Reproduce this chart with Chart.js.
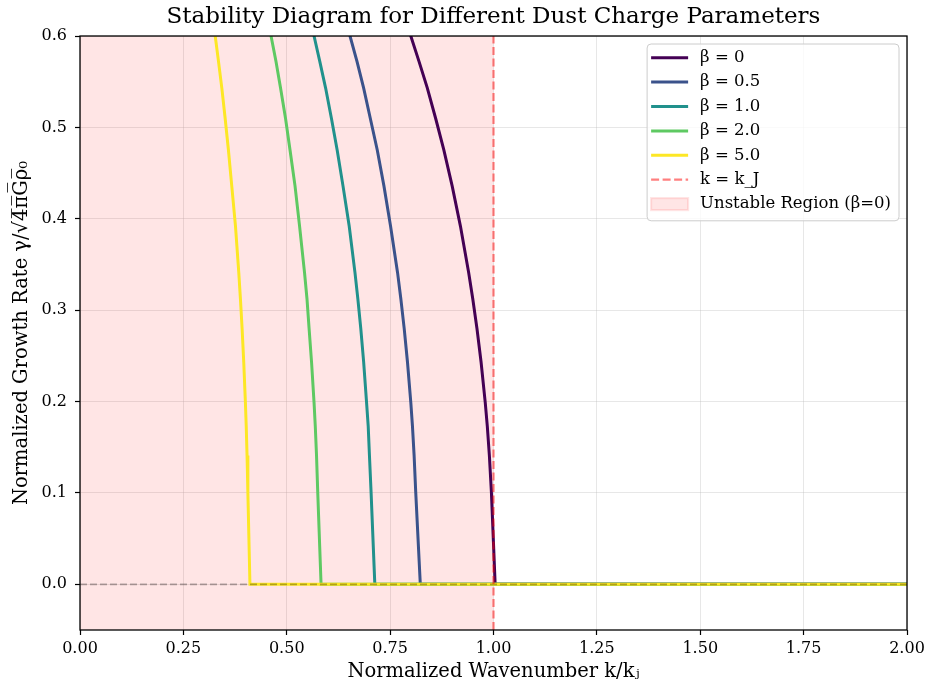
<!DOCTYPE html>
<html>
<head>
<meta charset="utf-8">
<title>Stability Diagram</title>
<script src="https://cdn.jsdelivr.net/npm/chart.js@4.4.1/dist/chart.umd.min.js"></script>
<style>
  body { margin: 0; background: #fff; }
  canvas { display: block; }
</style>
</head>
<body>
<canvas id="stabilityChart" width="930" height="690"></canvas>
<script>
// Growth rate samples, shared by every curve
const growthRate = [0.626, 0.600, 0.572, 0.543, 0.510, 0.475, 0.436, 0.392, 0.341, 0.312,
                    0.280, 0.243, 0.199, 0.173, 0.141, 0.100, 0, 0];

// k/k_J positions where each curve reaches the growth rates above
const kBeta0  = [0.780, 0.800, 0.820, 0.840, 0.860, 0.880, 0.900, 0.920, 0.940, 0.950,
                 0.960, 0.970, 0.980, 0.985, 0.990, 0.995, 1.004, 2.0];
const kBeta05 = [0.637, 0.653, 0.670, 0.686, 0.702, 0.719, 0.735, 0.751, 0.768, 0.776,
                 0.784, 0.792, 0.800, 0.804, 0.808, 0.812, 0.823, 2.0];
const kBeta1  = [0.552, 0.566, 0.580, 0.594, 0.608, 0.622, 0.636, 0.651, 0.665, 0.672,
                 0.679, 0.686, 0.693, 0.697, 0.700, 0.704, 0.713, 2.0];
const kBeta2  = [0.450, 0.462, 0.474, 0.485, 0.497, 0.508, 0.520, 0.531, 0.543, 0.549,
                 0.554, 0.560, 0.566, 0.569, 0.572, 0.575, 0.583, 2.0];
const kBeta5  = [0.318, 0.327, 0.335, 0.343, 0.351, 0.359, 0.367, 0.376, 0.384, 0.388,
                 0.392, 0.396, 0.400, 0.402, 0.404, 0.406, 0.411, 2.0];

const betaLabels = ['β = 0', 'β = 0.5', 'β = 1.0', 'β = 2.0', 'β = 5.0'];
const betaColors = ['#440154', '#3b528b', '#21918c', '#5ec962', '#fde725'];
const betaK = [kBeta0, kBeta05, kBeta1, kBeta2, kBeta5];

const jeansK = 1.0;
const xRange = [0, 2];
const yRange = [-0.05, 0.6];
const xTicks = [0, 0.25, 0.5, 0.75, 1.0, 1.25, 1.5, 1.75, 2.0];
const yTicks = [0, 0.1, 0.2, 0.3, 0.4, 0.5, 0.6];

const chartTitle = 'Stability Diagram for Different Dust Charge Parameters';
const serif = "'DejaVu Serif', 'Liberation Serif', serif";

// Build the datasets, bottom layer first
const datasets = [];

// shaded unstable region 0 <= k <= k_J
datasets.push({
    label: 'Unstable Region (β=0)',
    data: [{ x: xRange[0], y: yRange[1] }, { x: jeansK, y: yRange[1] }],
    fill: 'start',
    backgroundColor: 'rgba(255, 0, 0, 0.1)',
    borderColor: 'transparent',
    borderWidth: 0,
    pointRadius: 0,
    order: 10,
    legendKind: 'patch'
});

betaLabels.forEach((label, i) => {
    datasets.push({
        label: label,
        data: betaK[i].map((k, j) => ({ x: k, y: growthRate[j] })),
        borderColor: betaColors[i],
        borderWidth: 3,
        pointRadius: 0,
        fill: false,
        tension: 0,
        order: 9 - i,
        legendKind: 'line'
    });
});

// zero growth reference (not in legend)
datasets.push({
    label: 'zero',
    data: [{ x: xRange[0], y: 0 }, { x: xRange[1], y: 0 }],
    borderColor: 'rgba(0, 0, 0, 0.3)',
    borderWidth: 1.8,
    borderDash: [7, 3],
    pointRadius: 0,
    fill: false,
    order: 4
});

// Jeans wavenumber
datasets.push({
    label: 'k = k_J',
    data: [{ x: jeansK, y: yRange[0] }, { x: jeansK, y: yRange[1] }],
    borderColor: 'rgba(255, 0, 0, 0.5)',
    borderWidth: 2.2,
    borderDash: [8, 3.5],
    pointRadius: 0,
    fill: false,
    order: 3,
    legendKind: 'line'
});

// frame around the plot area (all four spines) + title centred over the axes
const frame = {
    id: 'frame',
    afterDatasetsDraw(chart) {
        const { ctx, chartArea: a } = chart;
        ctx.save();
        ctx.strokeStyle = '#000';
        ctx.lineWidth = 1.3;
        ctx.strokeRect(a.left, a.top, a.right - a.left, a.bottom - a.top);

        ctx.fillStyle = '#000';
        ctx.font = '23px ' + serif;
        ctx.textAlign = 'center';
        ctx.textBaseline = 'middle';
        ctx.fillText(chartTitle, (a.left + a.right) / 2, 17);
        ctx.restore();
    }
};

// legend drawn inside the axes, upper right
const insideLegend = {
    id: 'insideLegend',
    afterDraw(chart) {
        const { ctx, chartArea: a } = chart;
        const items = chart.data.datasets.filter(d => d.legendKind);
        // put the patch entry last like the original
        items.push(items.shift());
        ctx.save();
        ctx.font = '16.5px ' + serif;
        const textW = Math.max(...items.map(d => ctx.measureText(d.label).width));
        const rowH = 24.4;
        const w = textW + 61;
        const h = items.length * rowH + 6;
        const right = a.right - 8;
        const top = a.top + 8;
        const left = right - w;

        ctx.beginPath();
        ctx.roundRect(left, top, w, h, 4);
        ctx.fillStyle = 'rgba(255, 255, 255, 0.8)';
        ctx.fill();
        ctx.strokeStyle = '#cccccc';
        ctx.lineWidth = 1;
        ctx.stroke();

        items.forEach((d, i) => {
            const cy = top + 13.7 + i * rowH;
            const x0 = left + 4;
            if (d.legendKind === 'patch') {
                ctx.fillStyle = d.backgroundColor;
                ctx.fillRect(x0, cy - 6, 37, 12);
                ctx.strokeStyle = 'rgba(255, 0, 0, 0.1)';
                ctx.strokeRect(x0, cy - 6, 37, 12);
            } else {
                ctx.beginPath();
                ctx.setLineDash(d.borderDash || []);
                ctx.strokeStyle = d.borderColor;
                ctx.lineWidth = d.borderWidth;
                ctx.moveTo(x0, cy);
                ctx.lineTo(x0 + 37, cy);
                ctx.stroke();
                ctx.setLineDash([]);
            }
            ctx.fillStyle = '#000';
            ctx.textBaseline = 'middle';
            ctx.textAlign = 'left';
            ctx.fillText(d.label, x0 + 49, cy);
        });
        ctx.restore();
    }
};

const gridColor = 'rgba(176, 176, 176, 0.3)';

const ctx = document.getElementById('stabilityChart').getContext('2d');
const stabilityChart = new Chart(ctx, {
    type: 'line',
    data: { datasets: datasets },
    options: {
        responsive: false,
        animation: false,
        events: [],
        datasets: { line: { clip: 0 } },
        layout: { padding: { top: 36, right: 23, bottom: 0, left: 0 } },
        plugins: {
            legend: { display: false },
            tooltip: { enabled: false },
            title: { display: false }
        },
        scales: {
            x: {
                type: 'linear',
                min: xRange[0],
                max: xRange[1],
                afterBuildTicks: scale => { scale.ticks = xTicks.map(v => ({ value: v })); },
                afterFit: scale => { scale.height = 60; },
                ticks: {
                    callback: v => v.toFixed(2),
                    color: '#000',
                    font: { family: serif, size: 16 },
                    padding: 4,
                    maxRotation: 0,
                    autoSkip: false
                },
                grid: { color: gridColor, tickColor: '#000', tickLength: 5, tickWidth: 1.2 },
                border: { display: false },
                title: {
                    display: true,
                    text: 'Normalized Wavenumber k/kⱼ',
                    color: '#000',
                    font: { family: serif, size: 19.5 },
                    padding: 6
                }
            },
            y: {
                type: 'linear',
                min: yRange[0],
                max: yRange[1],
                afterBuildTicks: scale => { scale.ticks = yTicks.map(v => ({ value: v })); },
                afterFit: scale => { scale.width = 80; },
                ticks: {
                    callback: v => v.toFixed(1),
                    color: '#000',
                    font: { family: serif, size: 16 },
                    padding: 8,
                    autoSkip: false
                },
                grid: { color: gridColor, tickColor: '#000', tickLength: 5, tickWidth: 1.2 },
                border: { display: false },
                title: {
                    display: true,
                    text: 'Normalized Growth Rate γ/√4̅π̅G̅ρ̅₀',
                    color: '#000',
                    font: { family: serif, size: 19.5 },
                    padding: 10
                }
            }
        }
    },
    plugins: [frame, insideLegend]
});
</script>
</body>
</html>
